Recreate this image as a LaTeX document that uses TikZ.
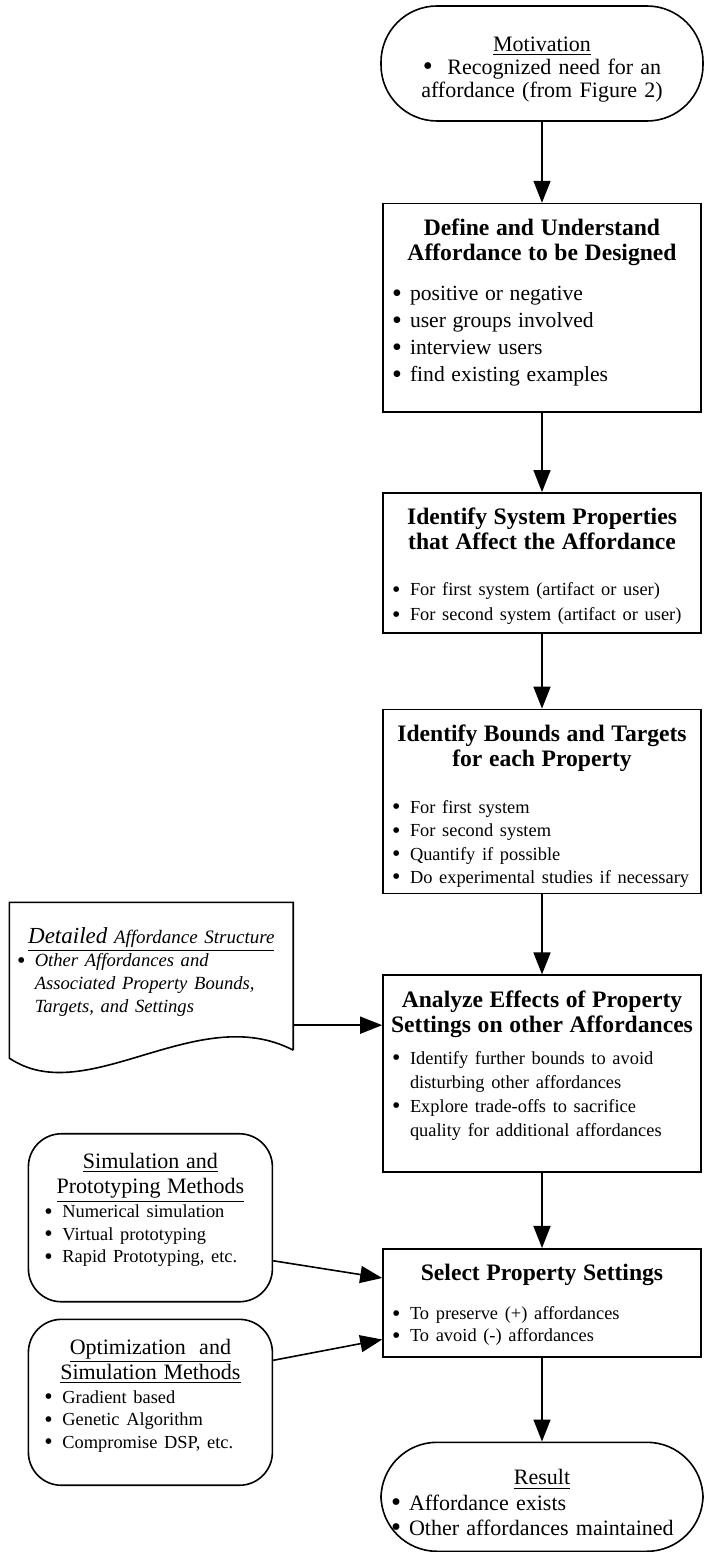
\documentclass[tikz,border=0pt]{standalone}
\usepackage{fontspec}
\usepackage{graphicx}
\setmainfont{Liberation Serif}
\usetikzlibrary{arrows.meta, positioning, calc}
\setlength{\parindent}{0pt}
\hyphenpenalty=10000
\exhyphenpenalty=10000

\newcommand{\dotmark}{\raisebox{-0.07em}{\scalebox{1.3}{\textbullet}}}
\newcommand{\bul}[1]{\par\hangindent=12.5pt\hangafter=1\noindent\makebox[12.5pt][l]{\hspace{3.5pt}\dotmark}#1}
\newcommand{\steptitle}[1]{{\centering\bfseries\fontsize{11.8}{12.5}\selectfont\rule{0pt}{10pt}#1\par}}
\newcommand{\bottomgap}[1]{\par\kern#1\relax}

\begin{document}
\begin{tikzpicture}[
		x=1pt, y=1pt,
		block/.style={rectangle, draw, line width=0.8pt, text width=157pt, inner xsep=1pt, inner ysep=6pt, align=left},
		terminal/.style={rectangle, rounded corners=28pt, draw, line width=0.8pt, minimum width=161pt, minimum height=57.5pt, text width=158pt, inner xsep=1.5pt, align=left, font=\fontsize{11}{12.6}\selectfont},
		method/.style={rectangle, rounded corners=16.5pt, draw, line width=0.8pt, text width=113pt, inner xsep=4.5pt, inner ysep=6pt, align=left},
		arrow/.style={-{Triangle[length=11pt, width=8.5pt]}, line width=0.8pt}
		]
		\useasboundingbox (0,0) rectangle (352,-776);

		% main column
		\node[terminal, text width=124pt, align=center, font=\fontsize{11}{11.5}\selectfont] (motiv) at (271,-31.75) {\underline{Motivation}\\\dotmark\ \ Recognized need for an\\affordance (from Figure 2)\bottomgap{-6pt}};
		\node[block, below=40.5pt of motiv] (define) {\steptitle{Define and Understand\\Affordance to be Designed}
			\vspace{6.5pt}{\fontsize{10.8}{13.5}\selectfont
			\bul{positive or negative}
			\bul{user groups involved}
			\bul{interview users}
			\bul{find existing examples}\bottomgap{7pt}}};
		\node[block, below=39.5pt of define] (idsys) {\steptitle{Identify System Properties\\that Affect the Affordance}
			\vspace{10.5pt}{\fontsize{9.2}{12.5}\selectfont
			\bul{For first system (artifact or user)}
			\bul{For second system (artifact or user)}\bottomgap{-2pt}}};
		\node[block, below=37.5pt of idsys] (bounds) {\steptitle{Identify Bounds and Targets\\for each Property}
			\vspace{11.8pt}{\fontsize{9.2}{11.7}\selectfont
			\bul{For first system}
			\bul{For second system}
			\bul{Quantify if possible}
			\bul{Do experimental studies if necessary}\bottomgap{-3pt}}};
		\node[block, below=40pt of bounds] (analyze) {\steptitle{Analyze Effects of Property\\Settings on other Affordances}
			\vspace{4pt}{\fontsize{9.2}{12}\selectfont
			\bul{Identify further bounds to avoid\newline disturbing other affordances}
			\bul{Explore trade-offs to sacrifice\newline quality for additional affordances}\bottomgap{10pt}}};
		\node[block, below=37.5pt of analyze] (select) {\steptitle{Select Property Settings}
			\vspace{8.5pt}{\fontsize{9.2}{11}\selectfont
			\bul{To preserve (+) affordances}
			\bul{To avoid (-) affordances}\bottomgap{-0.5pt}}};
		\node[terminal, below=42pt of select, minimum height=54.5pt] (result) {{\centering\underline{Result}\par}
			\bul{Affordance exists}
			\bul{Other affordances maintained}\bottomgap{-6.5pt}};

		% side inputs
		\node[rectangle, inner xsep=0pt, inner ysep=6pt, text width=141.5pt, align=left, font=\itshape, left=44.5pt of analyze.north west, anchor=north east, yshift=36pt] (detail) {{\centering\rule{0pt}{14.5pt}\underline{{\fontsize{11.5}{12}\selectfont Detailed} {\fontsize{9.5}{12}\selectfont Affordance Structure}}\par}
			{\fontsize{9.3}{11.5}\selectfont\bul{Other Affordances and\newline Associated Property Bounds,\newline Targets, and Settings}\bottomgap{10.5pt}}};
		\draw[line width=0.8pt] (detail.south east) -- (detail.north east) -- (detail.north west) -- ($(detail.south west)+(0,-4pt)$) .. controls ($(detail.south west)+(38.5pt,-30pt)$) and ($(detail.south east)+(-48pt,25pt)$) .. (detail.south east);
		\node[method, left=54.5pt of select.north west, anchor=north east, yshift=57.5pt] (sim) {{\centering\fontsize{11}{12.5}\selectfont\rule{0pt}{11.5pt}\underline{Simulation and}\\\underline{Prototyping Methods}\par}
			\vspace{0.75pt}{\fontsize{9.2}{11.25}\selectfont
			\bul{Numerical simulation}
			\bul{Virtual prototyping}
			\bul{Rapid Prototyping, etc.}\bottomgap{11.5pt}}};
		\node[method, below=8pt of sim] (opt) {{\centering\fontsize{11}{12.5}\selectfont\rule{0pt}{11.5pt}\underline{Optimization\ \ and}\\\underline{Simulation Methods}\par}
			\vspace{0.75pt}{\fontsize{9.2}{11.25}\selectfont
			\bul{Gradient based}
			\bul{Genetic Algorithm}
			\bul{Compromise DSP, etc.}\bottomgap{10.5pt}}};

		% connectors
		\draw[arrow] (motiv) -- (define);
		\draw[arrow] (define) -- (idsys);
		\draw[arrow] (idsys) -- (bounds);
		\draw[arrow] (bounds) -- (analyze);
		\draw[arrow] (analyze) -- (select);
		\draw[arrow] (select) -- (result);
		\coordinate (detailout) at ($(detail.south east)+(0,12.5pt)$);
		\draw[arrow] (detailout) -- (detailout -| analyze.west);
		\draw[arrow] ($(sim.east)+(0,-21.5pt)$) -- ($(select.north west)+(0,-15pt)$);
		\draw[arrow] ($(opt.east)+(0,21pt)$) -- ($(select.south west)+(0,9pt)$);
	\end{tikzpicture}
\end{document}
